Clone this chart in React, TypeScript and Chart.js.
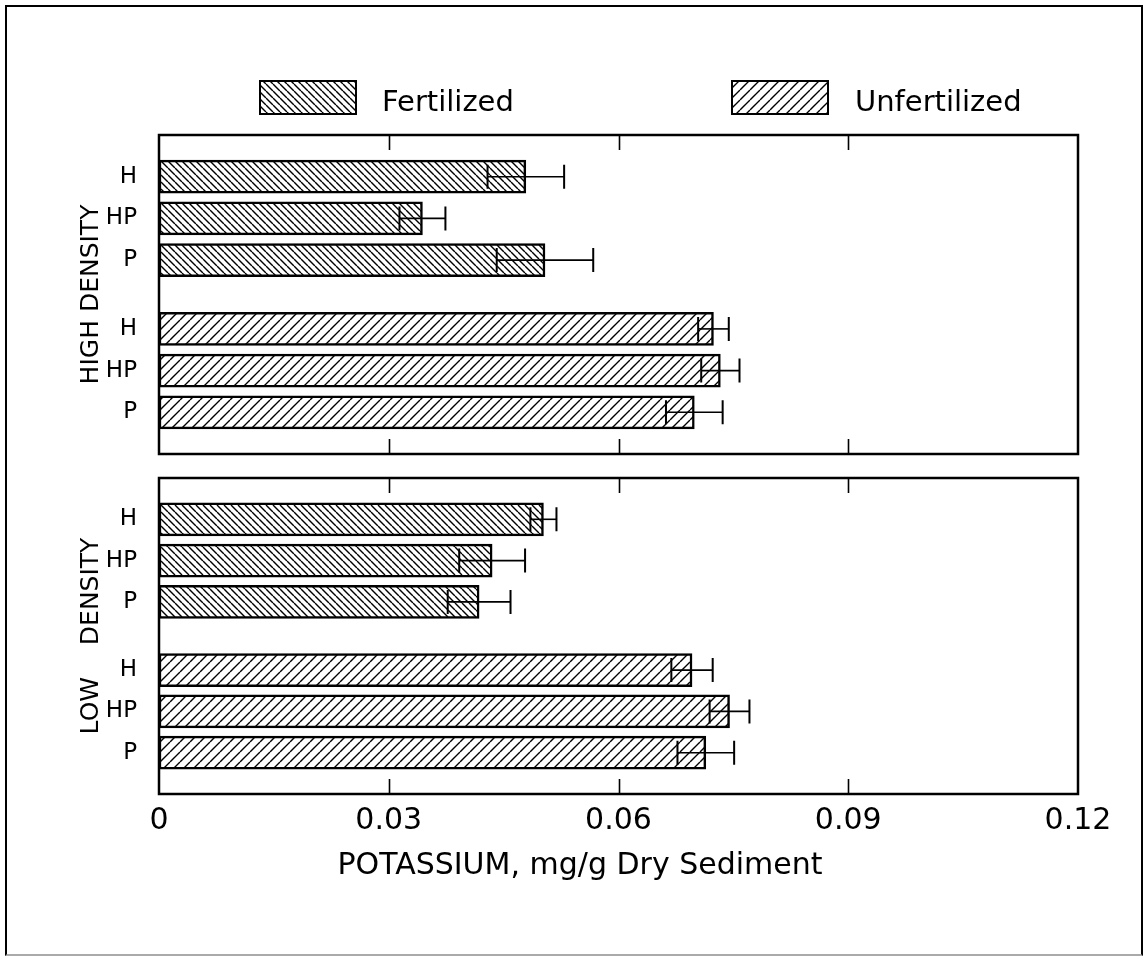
import React, { useEffect, useRef } from 'react';
import { Chart, registerables } from 'chart.js';

Chart.register(...registerables);

// ---- data -------------------------------------------------------------
const TREATMENTS = ['H', 'HP', 'P'];
const SERIES = ['Fertilized', 'Unfertilized'];

const HIGH_FERTILIZED = [0.0479, 0.0344, 0.0504];
const HIGH_FERTILIZED_SE = [0.005, 0.003, 0.0063];
const HIGH_UNFERTILIZED = [0.0724, 0.0733, 0.0699];
const HIGH_UNFERTILIZED_SE = [0.002, 0.0025, 0.0037];

const LOW_FERTILIZED = [0.0502, 0.0435, 0.0418];
const LOW_FERTILIZED_SE = [0.0017, 0.0043, 0.0041];
const LOW_UNFERTILIZED = [0.0696, 0.0745, 0.0714];
const LOW_UNFERTILIZED_SE = [0.0027, 0.0026, 0.0037];

const X_TICKS = [0, 0.03, 0.06, 0.09, 0.12];
const X_TITLE = 'POTASSIUM, mg/g Dry Sediment';
const PANEL_TITLES = ['HIGH DENSITY', 'LOW    DENSITY'];

// ---- layout -----------------------------------------------------------
const PAGE_W = 1148;
const PAGE_H = 957;
const FONT = '"DejaVu Sans"';

// row slots on the (reversed) linear y scale: three bars, a gap, three bars
const ROW_FIRST = 1;
const GROUP_STEP = 3.65;
const Y_SPAN = 7.65;
const rowPos = (group: number, i: number) => ROW_FIRST + group * GROUP_STEP + i;
const ROW_LABELS = [...TREATMENTS, ...TREATMENTS];
const ROW_TICKS = [0, 1].flatMap((g) => TREATMENTS.map((_, i) => rowPos(g, i)));

Chart.defaults.font.family = FONT;
Chart.defaults.color = '#000';

function makeHatch(ctx: CanvasRenderingContext2D, pitch: number, dir: 'back' | 'fwd') {
  const tile = document.createElement('canvas');
  tile.width = pitch;
  tile.height = pitch;
  const g = tile.getContext('2d')!;
  g.fillStyle = '#fff';
  g.fillRect(0, 0, pitch, pitch);
  g.strokeStyle = '#000';
  g.lineWidth = 1.4;
  g.beginPath();
  for (let k = -1; k <= 1; k++) {
    if (dir === 'back') {
      g.moveTo(k * pitch, 0);
      g.lineTo(k * pitch + pitch, pitch);
    } else {
      g.moveTo(k * pitch, pitch);
      g.lineTo(k * pitch + pitch, 0);
    }
  }
  g.stroke();
  return ctx.createPattern(tile, 'repeat');
}

// error bars: a line from value-se to value+se with caps at both ends
const errorBarPlugin = {
  id: 'errorBars',
  afterDatasetsDraw(chart: any) {
    const { ctx } = chart;
    const xs = chart.scales.x;
    chart.data.datasets.forEach((ds: any, di: number) => {
      const meta = chart.getDatasetMeta(di);
      meta.data.forEach((bar: any, i: number) => {
        const v = ds.data[i].x;
        const e = ds.errors[i];
        const lo = xs.getPixelForValue(v - e);
        const hi = xs.getPixelForValue(v + e);
        const y = bar.y;
        ctx.save();
        ctx.strokeStyle = '#000';
        ctx.lineWidth = 1.6;
        ctx.beginPath();
        ctx.moveTo(lo, y);
        ctx.lineTo(hi, y);
        ctx.stroke();
        ctx.lineWidth = 2;
        ctx.beginPath();
        ctx.moveTo(lo, y - 12);
        ctx.lineTo(lo, y + 12);
        ctx.moveTo(hi, y - 12);
        ctx.lineTo(hi, y + 12);
        ctx.stroke();
        ctx.restore();
      });
    });
  },
};

// box round the plot area with short inward ticks on top and bottom edges
const framePlugin = {
  id: 'panelFrame',
  afterDatasetsDraw(chart: any) {
    const { ctx, chartArea: a } = chart;
    const xs = chart.scales.x;
    ctx.save();
    ctx.strokeStyle = '#000';
    ctx.lineWidth = 1.6;
    ctx.beginPath();
    X_TICKS.slice(1, -1).forEach((v) => {
      const px = Math.round(xs.getPixelForValue(v)) + 0.5;
      ctx.moveTo(px, a.top);
      ctx.lineTo(px, a.top + 15);
      ctx.moveTo(px, a.bottom);
      ctx.lineTo(px, a.bottom - 15);
    });
    ctx.stroke();
    ctx.lineWidth = 2.5;
    ctx.strokeRect(a.left, a.top, a.right - a.left, a.bottom - a.top);
    ctx.restore();
  },
};

const LEGEND_SLOTS = [
  { box: 260, text: 382 },
  { box: 732, text: 855 },
];

const hatchLegendPlugin = {
  id: 'hatchLegend',
  afterDraw(chart: any) {
    const { ctx } = chart;
    chart.data.datasets.forEach((ds: any, i: number) => {
      const slot = LEGEND_SLOTS[i];
      ctx.save();
      ctx.fillStyle = ds.backgroundColor;
      ctx.fillRect(slot.box, 81, 96, 33);
      ctx.strokeStyle = '#000';
      ctx.lineWidth = 2;
      ctx.strokeRect(slot.box, 81, 96, 33);
      ctx.fillStyle = '#000';
      ctx.font = `29px ${FONT}`;
      ctx.textBaseline = 'alphabetic';
      ctx.textAlign = 'left';
      ctx.fillText(ds.label, slot.text, 111);
      ctx.restore();
    });
  },
};

const xTitlePlugin = {
  id: 'xTitle',
  afterDraw(chart: any) {
    const { ctx } = chart;
    ctx.save();
    ctx.fillStyle = '#000';
    ctx.font = `30px ${FONT}`;
    ctx.textAlign = 'center';
    ctx.textBaseline = 'middle';
    ctx.fillText(X_TITLE, 580, chart.chartArea.bottom + 72);
    ctx.restore();
  },
};

type PanelProps = {
  title: string;
  fert: number[];
  fertSe: number[];
  unfert: number[];
  unfertSe: number[];
  top: number;
  height: number;
  pad: { top: number; bottom: number };
  bottomAxis: boolean;
  legend: boolean;
};

function Panel(p: PanelProps) {
  const ref = useRef<HTMLCanvasElement>(null);

  useEffect(() => {
    const canvas = ref.current!;
    const ctx = canvas.getContext('2d')!;
    const fertPattern = makeHatch(ctx, 7, 'back');
    const unfertPattern = makeHatch(ctx, 10, 'fwd');

    const barStyle = {
      borderColor: '#000',
      borderWidth: 2.5,
      borderSkipped: false,
      barThickness: 33,
      grouped: false,
    };

    const plugins: any[] = [errorBarPlugin, framePlugin];
    if (p.legend) plugins.push(hatchLegendPlugin);
    if (p.bottomAxis) plugins.push(xTitlePlugin);

    const chart = new Chart(canvas, {
      type: 'bar',
      data: {
        datasets: [
          {
            label: SERIES[0],
            data: p.fert.map((v, i) => ({ x: v, y: rowPos(0, i) })),
            errors: p.fertSe,
            backgroundColor: fertPattern,
            ...barStyle,
          } as any,
          {
            label: SERIES[1],
            data: p.unfert.map((v, i) => ({ x: v, y: rowPos(1, i) })),
            errors: p.unfertSe,
            backgroundColor: unfertPattern,
            ...barStyle,
          } as any,
        ],
      },
      options: {
        indexAxis: 'y',
        responsive: false,
        animation: false,
        layout: { padding: { top: p.pad.top, right: PAGE_W - 1078, bottom: p.pad.bottom, left: 0 } },
        plugins: {
          legend: { display: false },
          tooltip: { enabled: false },
        },
        scales: {
          x: {
            type: 'linear',
            min: 0,
            max: 0.12,
            offset: false,
            display: p.bottomAxis,
            afterBuildTicks: (s: any) => {
              s.ticks = X_TICKS.map((value) => ({ value }));
            },
            afterFit: (s: any) => {
              s.height = p.bottomAxis ? 54 : 0;
            },
            grid: { display: false, drawTicks: false },
            border: { display: false },
            ticks: {
              padding: 9,
              autoSkip: false,
              maxRotation: 0,
              font: { size: 30 },
              callback: (v: any) => String(Number(v)),
            },
          },
          y: {
            type: 'linear',
            reverse: true,
            offset: false,
            min: 0,
            max: Y_SPAN,
            afterBuildTicks: (s: any) => {
              s.ticks = ROW_TICKS.map((value) => ({ value }));
            },
            afterFit: (s: any) => {
              s.width = 159;
            },
            grid: { display: false, drawTicks: false, offset: false },
            border: { display: false },
            ticks: {
              autoSkip: false,
              padding: 22,
              font: { size: 23 },
              callback: (_v: any, i: number) => ROW_LABELS[i],
            },
            title: {
              display: true,
              text: p.title,
              font: { size: 25 },
              padding: { top: 76, bottom: 0 },
            },
          },
        },
      } as any,
      plugins,
    });
    return () => chart.destroy();
  }, []);

  return (
    <canvas
      ref={ref}
      width={PAGE_W}
      height={p.height}
      style={{ position: 'absolute', left: 0, top: p.top, width: PAGE_W, height: p.height }}
    />
  );
}

export default function App() {
  return (
    <div style={{ position: 'absolute', left: 0, top: 0, width: PAGE_W, height: PAGE_H, background: '#fff', overflow: 'hidden' }}>
      <div
        style={{
          position: 'absolute',
          left: 5,
          top: 5,
          width: 1138,
          height: 951,
          boxSizing: 'border-box',
          borderLeft: '2px solid #000',
          borderTop: '2px solid #000',
          borderRight: '2px solid #000',
          borderBottom: '2px solid #aaa',
        }}
      />
      <Panel
        title={PANEL_TITLES[0]}
        fert={HIGH_FERTILIZED}
        fertSe={HIGH_FERTILIZED_SE}
        unfert={HIGH_UNFERTILIZED}
        unfertSe={HIGH_UNFERTILIZED_SE}
        top={0}
        height={490}
        pad={{ top: 135, bottom: 36 }}
        bottomAxis={false}
        legend={true}
      />
      <Panel
        title={PANEL_TITLES[1]}
        fert={LOW_FERTILIZED}
        fertSe={LOW_FERTILIZED_SE}
        unfert={LOW_UNFERTILIZED}
        unfertSe={LOW_UNFERTILIZED_SE}
        top={442}
        height={515}
        pad={{ top: 36, bottom: 109 }}
        bottomAxis={true}
        legend={false}
      />
    </div>
  );
}
